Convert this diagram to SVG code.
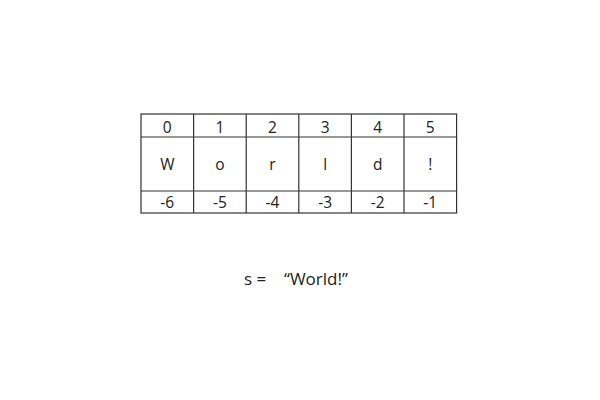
<svg xmlns="http://www.w3.org/2000/svg" width="600" height="400" viewBox="0 0 600 400">
<style>
.grid{fill:none;stroke:#333;stroke-width:1.2}
.t{font-family:"Open Sans","Noto Sans",sans-serif;font-size:15.5px;fill:#222;text-anchor:middle}
.s{font-family:"Open Sans","Noto Sans",sans-serif;font-size:17px;fill:#222}
</style>
<rect width="600" height="400" fill="#fff"/>
<g id="table">
<rect class="grid" x="141" y="114" width="315.6" height="99"/>
<path class="grid" d="M141 137H456.6M141 191H456.6M193.6 114V213M246.2 114V213M298.8 114V213M351.4 114V213M404 114V213"/>
</g>
<g id="indices">
<text class="t" x="167.3" y="132.5">0</text>
<text class="t" x="219.9" y="132.5">1</text>
<text class="t" x="272.5" y="132.5">2</text>
<text class="t" x="325.1" y="132.5">3</text>
<text class="t" x="377.7" y="132.5">4</text>
<text class="t" x="430.3" y="132.5">5</text>
</g>
<g id="chars">
<text class="t" x="167.3" y="170">W</text>
<text class="t" x="219.9" y="170">o</text>
<text class="t" x="272.5" y="170">r</text>
<text class="t" x="325.1" y="170">l</text>
<text class="t" x="377.7" y="170">d</text>
<text class="t" x="430.3" y="170">!</text>
</g>
<g id="negindices">
<text class="t" x="167.3" y="207.5">-6</text>
<text class="t" x="219.9" y="207.5">-5</text>
<text class="t" x="272.5" y="207.5">-4</text>
<text class="t" x="325.1" y="207.5">-3</text>
<text class="t" x="377.7" y="207.5">-2</text>
<text class="t" x="430.3" y="207.5">-1</text>
</g>
<g id="label">
<text class="s" x="244" y="285">s =</text>
<text class="s" x="284" y="285">“World!”</text>
</g>
</svg>
